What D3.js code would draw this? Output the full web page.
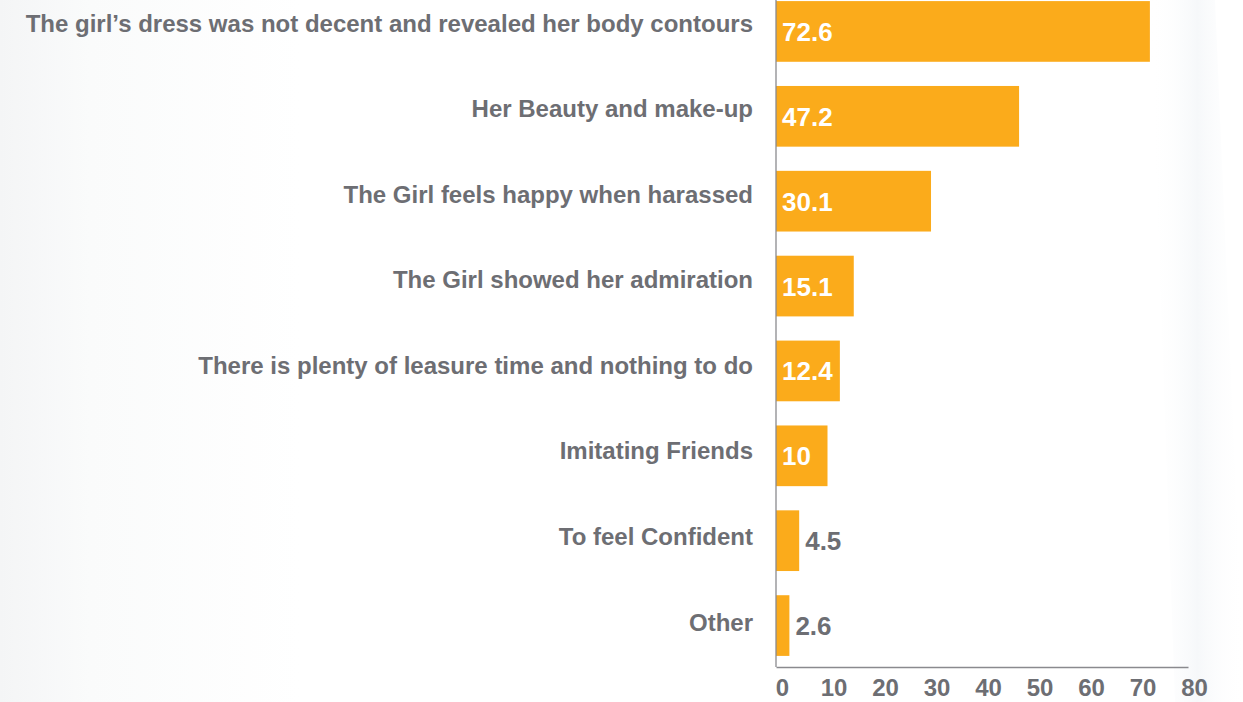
<!DOCTYPE html>
<html>
<head>
<meta charset="utf-8">
<script src="https://cdn.jsdelivr.net/npm/d3@7/dist/d3.min.js"></script>
<style>
  html, body { margin: 0; padding: 0; background: #fff; }
  svg { display: block; }
  text { font-family: "Liberation Sans", Arial, Helvetica, sans-serif; font-weight: bold; }
</style>
</head>
<body>
<svg id="chart" width="1243" height="702"></svg>
<script>
const categories = [
  "The girl\u2019s dress was not decent and revealed her body contours",
  "Her Beauty and make-up",
  "The Girl feels happy when harassed",
  "The Girl showed her admiration",
  "There is plenty of leasure time and nothing to do",
  "Imitating Friends",
  "To feel Confident",
  "Other"
];
const values = [72.6, 47.2, 30.1, 15.1, 12.4, 10, 4.5, 2.6];
const valueLabels = ["72.6", "47.2", "30.1", "15.1", "12.4", "10", "4.5", "2.6"];
const xTicks = [0, 10, 20, 30, 40, 50, 60, 70, 80];

const W = 1243, H = 702;
const svg = d3.select("#chart");

// background soft gradients
const defs = svg.append("defs");
const lg = defs.append("linearGradient").attr("id", "leftFade").attr("x1", "0").attr("x2", "1").attr("y1", "0").attr("y2", "0");
lg.append("stop").attr("offset", "0").attr("stop-color", "#f4f5f6");
lg.append("stop").attr("offset", "0.3").attr("stop-color", "#fafbfb");
lg.append("stop").attr("offset", "1").attr("stop-color", "#ffffff");
svg.append("rect").attr("x", 0).attr("y", 0).attr("width", 300).attr("height", H).attr("fill", "url(#leftFade)");
const rg = defs.append("linearGradient").attr("id", "rightFade").attr("x1", "0").attr("x2", "1");
rg.append("stop").attr("offset", "0").attr("stop-color", "#ffffff").attr("stop-opacity", 0);
rg.append("stop").attr("offset", "0.5").attr("stop-color", "#f6f8fa");
rg.append("stop").attr("offset", "1").attr("stop-color", "#ffffff").attr("stop-opacity", 0);
svg.append("path").attr("d", "M1150,0 L1215,0 L1245,702 L1175,702 Z").attr("fill", "url(#rightFade)");

const x = d3.scaleLinear().domain([0, 80]).range([776, 1188]);
const y = d3.scaleBand().domain(categories).range([-11, 668]).paddingInner(0.285).paddingOuter(0.1425);
const labelY = d3.scalePoint().domain(categories).range([23, 622]);

const grey = "#6d6e73";
const barColor = "#fbab1b";

// bars
svg.append("g").selectAll("rect").data(values).join("rect")
  .attr("x", x(0))
  .attr("y", (d, i) => y(categories[i]))
  .attr("width", d => x(d) - x(0))
  .attr("height", y.bandwidth())
  .attr("fill", barColor);

// axes
const axisBottom = d3.axisBottom(x).tickValues(xTicks).tickSize(0).tickPadding(12).tickFormat(d3.format("d"));
const gx = svg.append("g").attr("transform", "translate(0,667)").call(axisBottom);
gx.select(".domain").attr("stroke", "#8a8a8e").attr("stroke-width", 1.3);
gx.selectAll("text").attr("fill", grey).attr("font-size", 24).attr("dx", 6)
  .style("font-family", "'Liberation Sans', Arial, sans-serif").style("font-weight", "bold");

const axisLeft = d3.axisLeft(y).tickSize(0).tickFormat("");
const gy = svg.append("g").attr("transform", "translate(776,0)").call(axisLeft);
gy.select(".domain").attr("stroke", "#8a8a8e").attr("stroke-width", 1.3).attr("d", "M0,0V667");

// category labels
svg.append("g").selectAll("text").data(categories).join("text")
  .attr("x", 753)
  .attr("y", d => labelY(d) + 8.5)
  .attr("text-anchor", "end")
  .attr("font-size", 24)
  .attr("fill", grey)
  .text(d => d);

// value labels
const inside = d => x(d) - x(0) > 40;
svg.append("g").selectAll("text").data(values).join("text")
  .attr("x", d => (inside(d) ? x(0) + 6 : x(d) + 6))
  .attr("y", (d, i) => y(categories[i]) + y.bandwidth() / 2 + 9.5)
  .attr("font-size", 26)
  .attr("fill", d => (inside(d) ? "#ffffff" : grey))
  .text((d, i) => valueLabels[i]);
</script>
</body>
</html>
